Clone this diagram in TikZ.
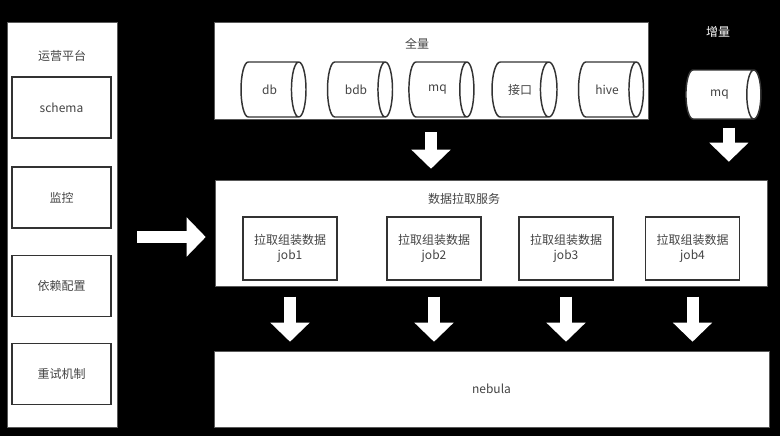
\documentclass[tikz,border=0pt]{standalone}
\usepackage{fontspec}
\setmainfont{Noto Sans CJK SC}
\usepackage{xcolor}
\usepackage{tikz}
\usetikzlibrary{shapes.geometric,arrows.meta}

\definecolor{txtgray}{HTML}{444444}
\definecolor{edgegray}{HTML}{333333}

\tikzset{
  panel/.style={draw=gray!70!black,thin,fill=white,rectangle,inner sep=0pt},
  item/.style={draw=edgegray,line width=1.1pt,fill=white,rectangle,text=txtgray,
    minimum width=74.25pt,minimum height=45.75pt,inner sep=0pt},
  jobbox/.style={item,minimum width=70.5pt,minimum height=47.25pt,align=center},
  % cylinder lies on its side: height is along the axis, width across it
  store/.style={draw=edgegray,line width=1.1pt,fill=white,cylinder,aspect=1.5,
    text=txtgray,minimum height=48.75pt,minimum width=41.25pt,inner sep=0pt},
  title/.style={text=txtgray},
  bigarrow/.style={white,line width=9pt,-{Triangle[length=14.25pt,width=28.5pt]}},
}

\begin{document}
\begin{tikzpicture}[x=0.75pt,y=-0.75pt,font=\fontsize{9}{11}\selectfont]
\fill[black] (0,0) rectangle (780,436);
\useasboundingbox (0,0) rectangle (780,436);

% left column
\node[panel,minimum width=82.5pt,minimum height=303.75pt] (platform) at (62,224.5) {};
\node[title] (platformlbl) at (62,56) {运营平台};
\node[item] (schema) at (61.5,107.5) {schema};
\node[item] (monitor) at (61.5,197.5) {监控};
\node[item] (depend) at (61.5,286) {依赖配置};
\node[item] (retry) at (61.5,374) {重试机制};

% full sources
\node[panel,minimum width=325.5pt,minimum height=72.75pt] (full) at (431,70.5) {};
\node[title] (fulllbl) at (417,44) {全量};
\node[store] (db) at (269.5,89.5) {db};
\node[store] (bdb) at (356,89.5) {bdb};
\node[store] (mqfull) at (437.5,89.5) {mq};
\node[store] (api) at (520,89.5) {接口};
\node[store] (hive) at (607,89.5) {hive};

% incremental
\node[white] (inclbl) at (718,32) {增量};
\node[store,minimum height=56.25pt,minimum width=36.75pt] (mqinc) at (719.5,94.5) {mq};

% pull service
\node[panel,minimum width=414pt,minimum height=79.5pt] (pull) at (491,233) {};
\node[title] (pulllbl) at (464,199) {数据拉取服务};
\node[jobbox] (job1) at (290,248.5) {拉取组装数据\\job1};
\node[jobbox] (job2) at (434,248.5) {拉取组装数据\\job2};
\node[jobbox] (job3) at (566,248.5) {拉取组装数据\\job3};
\node[jobbox] (job4) at (692.5,248.5) {拉取组装数据\\job4};

% target
\node[panel,minimum width=416.25pt,minimum height=57pt,text=txtgray] (nebula) at (491.5,389) {nebula};

% arrows
\draw[bigarrow,shorten <=9.75pt,shorten >=8.25pt] (full.south) -- (full.south |- pull.north);
\draw[bigarrow,shorten <=6pt,shorten >=13.5pt] ([xshift=7pt]mqinc.south) -- ([xshift=7pt]mqinc.south |- pull.north);
\draw[bigarrow,shorten <=15pt,shorten >=6.75pt] ([yshift=-3pt]platform.east |- pull.center) -- ([yshift=-3pt]pull.west);
\foreach \j in {job1,job2,job3,job4}
  \draw[bigarrow,shorten <=12pt,shorten >=6.75pt] (\j.south) -- (\j.south |- nebula.north);
\end{tikzpicture}
\end{document}
